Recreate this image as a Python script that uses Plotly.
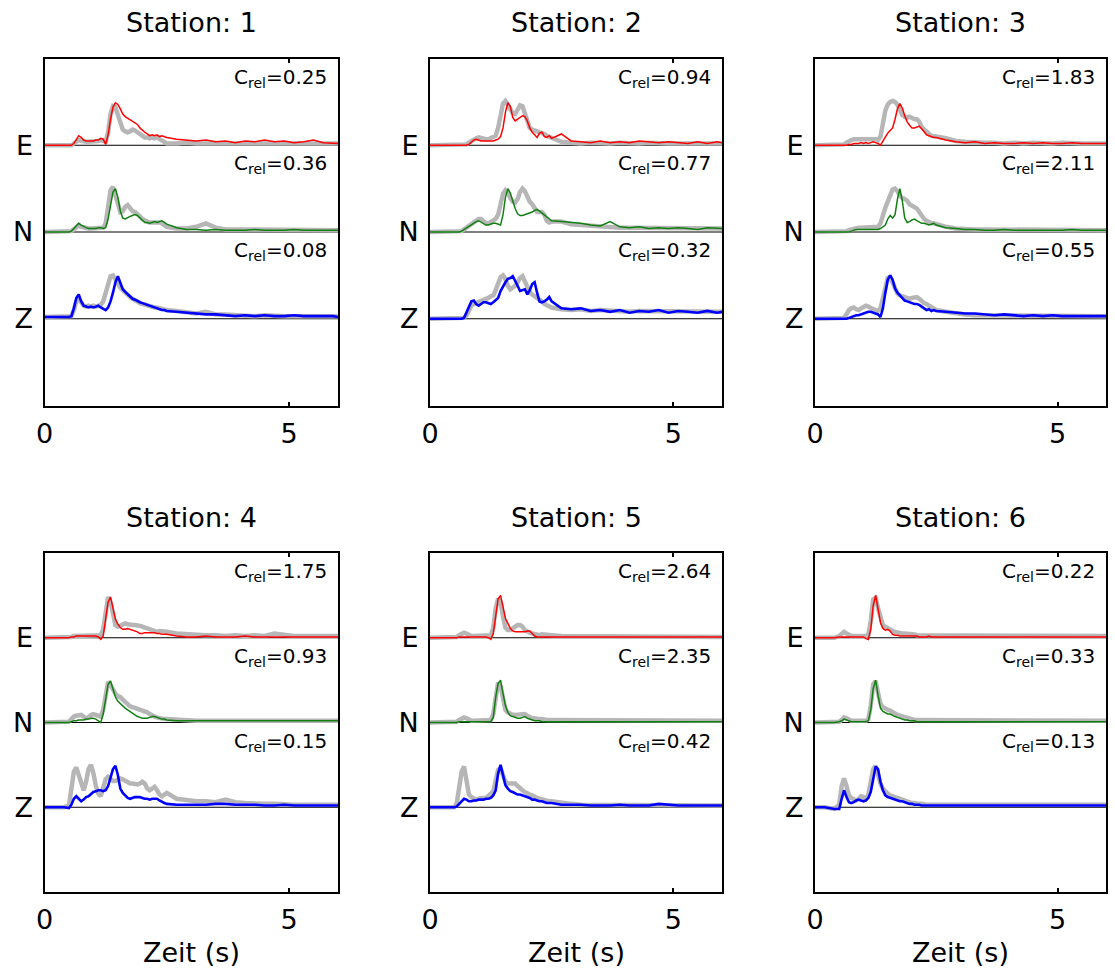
import plotly.graph_objects as go

# ---------------- data ----------------
t = [0.0, 0.2, 0.4,
     0.5, 0.55, 0.6, 0.65, 0.7, 0.75, 0.8, 0.85, 0.9, 0.95,
     1.0, 1.05, 1.1, 1.15, 1.2, 1.25, 1.3, 1.35, 1.4, 1.45,
     1.5, 1.55, 1.6, 1.65, 1.7, 1.75, 1.8, 1.85, 1.9, 1.95,
     2.0, 2.05, 2.1, 2.15, 2.2, 2.25, 2.3, 2.35, 2.4, 2.45, 2.5,
     2.7, 2.9, 3.1, 3.3, 3.5, 3.7, 3.9, 4.1, 4.3, 4.5, 4.7, 4.9, 5.1, 5.3, 5.5, 5.7, 5.9, 6.0]

stations = ["1", "2", "3", "4", "5", "6"]
components = ["E", "N", "Z"]
crel_E = [0.25, 0.94, 1.83, 1.75, 2.64, 0.22]
crel_N = [0.36, 0.77, 2.11, 0.93, 2.35, 0.33]
crel_Z = [0.08, 0.32, 0.55, 0.15, 0.42, 0.13]
x_ticks = [0, 5]

# Station 1
s1_E_obs = [0, 0, 0,
            0, 0, 0.02, 0.04, 0.06, 0.05, 0.04, 0.04, 0.04, 0.04,
            0.04, 0.05, 0.05, 0.06, 0.05, 0.04, 0.15, 0.36, 0.45, 0.44,
            0.35, 0.24, 0.18, 0.16, 0.15, 0.16, 0.18, 0.17, 0.15, 0.12,
            0.10, 0.09, 0.09, 0.08, 0.09, 0.08, 0.09, 0.07, 0.05, 0.03, 0.02,
            0.02, 0.03, 0.02, 0.02, 0.03, 0.02, 0.02, 0.03, 0.02, 0.02, 0.02, 0.03, 0.02, 0.02, 0.02, 0.02, 0.02, 0.02]
s1_E_syn = [0, 0, 0,
            0, 0, 0.02, 0.06, 0.11, 0.09, 0.06, 0.05, 0.05, 0.05,
            0.05, 0.06, 0.06, 0.08, 0.07, 0.01, 0.12, 0.30, 0.44, 0.49,
            0.47, 0.42, 0.36, 0.33, 0.31, 0.29, 0.28, 0.26, 0.24, 0.20,
            0.17, 0.15, 0.13, 0.11, 0.12, 0.11, 0.12, 0.10, 0.11, 0.10, 0.09,
            0.07, 0.06, 0.05, 0.06, 0.04, 0.05, 0.03, 0.05, 0.04, 0.06, 0.04, 0.05, 0.03, 0.04, 0.06, 0.03, 0.02, 0.02]
s1_N_obs = [0, 0, 0,
            0, 0.01, 0.03, 0.06, 0.08, 0.06, 0.05, 0.04, 0.04, 0.04,
            0.04, 0.04, 0.04, 0.05, 0.05, 0.10, 0.30, 0.48, 0.52, 0.42,
            0.30, 0.23, 0.24, 0.29, 0.31, 0.27, 0.24, 0.23, 0.21, 0.18,
            0.15, 0.13, 0.12, 0.11, 0.11, 0.12, 0.11, 0.11, 0.10, 0.08, 0.06,
            0.04, 0.04, 0.06, 0.10, 0.05, 0.03, 0.03, 0.03, 0.02, 0.03, 0.02, 0.03, 0.02, 0.03, 0.02, 0.02, 0.02, 0.02]
s1_N_syn = [0, 0, 0,
            0, 0.01, 0.04, 0.08, 0.10, 0.08, 0.06, 0.05, 0.04, 0.04,
            0.04, 0.04, 0.05, 0.05, 0.04, 0.05, 0.15, 0.32, 0.46, 0.50,
            0.40, 0.24, 0.16, 0.15, 0.17, 0.18, 0.19, 0.20, 0.19, 0.16,
            0.13, 0.11, 0.11, 0.10, 0.11, 0.12, 0.11, 0.12, 0.13, 0.11, 0.09,
            0.05, 0.03, 0.03, 0.02, 0.03, 0.02, 0.02, 0.02, 0.03, 0.02, 0.02, 0.02, 0.03, 0.02, 0.02, 0.02, 0.02, 0.02]
s1_Z_obs = [0.02, 0.02, 0.02,
            0.02, 0.03, 0.10, 0.20, 0.23, 0.18, 0.15, 0.14, 0.15, 0.14,
            0.15, 0.14, 0.15, 0.16, 0.20, 0.30, 0.42, 0.49, 0.50, 0.45,
            0.40, 0.36, 0.33, 0.30, 0.27, 0.25, 0.23, 0.22, 0.20, 0.18,
            0.17, 0.16, 0.15, 0.14, 0.14, 0.13, 0.13, 0.12, 0.11, 0.11, 0.10,
            0.09, 0.07, 0.06, 0.08, 0.05, 0.05, 0.04, 0.04, 0.03, 0.04, 0.03, 0.03, 0.03, 0.03, 0.03, 0.03, 0.03, 0.03]
s1_Z_syn = [0.02, 0.02, 0.02,
            0.02, 0.03, 0.12, 0.24, 0.28, 0.20, 0.15, 0.14, 0.13, 0.14,
            0.13, 0.14, 0.15, 0.13, 0.11, 0.10, 0.13, 0.20, 0.30, 0.42,
            0.49, 0.42, 0.34, 0.31, 0.28, 0.25, 0.23, 0.22, 0.20, 0.19,
            0.18, 0.17, 0.16, 0.15, 0.14, 0.13, 0.12, 0.11, 0.10, 0.10, 0.09,
            0.08, 0.07, 0.06, 0.05, 0.05, 0.04, 0.03, 0.04, 0.03, 0.04, 0.03, 0.03, 0.04, 0.03, 0.03, 0.03, 0.03, 0.02]

# Station 2
s2_E_obs = [0, 0, 0,
            0, 0, 0, 0, 0, 0.01, 0.03, 0.05, 0.07, 0.08,
            0.09, 0.08, 0.07, 0.07, 0.07, 0.08, 0.10, 0.11, 0.20, 0.38,
            0.48, 0.51, 0.47, 0.42, 0.37, 0.36, 0.40, 0.46, 0.45, 0.36,
            0.26, 0.20, 0.18, 0.17, 0.16, 0.15, 0.15, 0.13, 0.11, 0.10, 0.09,
            0.04, 0.03, 0.02, 0.03, 0.02, 0.02, 0.03, 0.02, 0.02, 0.03, 0.02, 0.02, 0.02, 0.02, 0.02, 0.02, 0.02, 0.02]
s2_E_syn = [0, 0, 0,
            0, 0, 0, 0, 0, 0, 0.01, 0.04, 0.06, 0.07,
            0.06, 0.05, 0.05, 0.05, 0.05, 0.05, 0.05, 0.06, 0.07, 0.10,
            0.20, 0.38, 0.49, 0.45, 0.32, 0.28, 0.30, 0.33, 0.34, 0.33,
            0.28, 0.20, 0.15, 0.12, 0.09, 0.14, 0.15, 0.10, 0.09, 0.11, 0.08,
            0.13, 0.05, 0.04, 0.03, 0.05, 0.03, 0.04, 0.03, 0.05, 0.04, 0.03, 0.04, 0.03, 0.02, 0.04, 0.02, 0.04, 0.03]
s2_N_obs = [0, 0, 0,
            0, 0, 0, 0.01, 0.03, 0.05, 0.07, 0.09, 0.11, 0.13,
            0.15, 0.15, 0.12, 0.10, 0.10, 0.12, 0.14, 0.15, 0.20, 0.33,
            0.44, 0.48, 0.45, 0.39, 0.35, 0.34, 0.38, 0.46, 0.50, 0.47,
            0.40, 0.35, 0.32, 0.27, 0.23, 0.23, 0.23, 0.20, 0.13, 0.11, 0.12,
            0.12, 0.09, 0.08, 0.07, 0.06, 0.05, 0.05, 0.05, 0.05, 0.04, 0.05, 0.04, 0.04, 0.04, 0.04, 0.04, 0.04, 0.04]
s2_N_syn = [0, 0, 0,
            0, 0, 0, 0.01, 0.03, 0.05, 0.06, 0.08, 0.10, 0.12,
            0.13, 0.11, 0.09, 0.08, 0.08, 0.09, 0.10, 0.10, 0.09, 0.08,
            0.20, 0.40, 0.50, 0.45, 0.36, 0.27, 0.21, 0.19, 0.19, 0.20,
            0.21, 0.22, 0.23, 0.25, 0.26, 0.24, 0.22, 0.20, 0.17, 0.15, 0.13,
            0.12, 0.11, 0.10, 0.08, 0.07, 0.12, 0.06, 0.05, 0.06, 0.04, 0.05, 0.04, 0.05, 0.04, 0.03, 0.05, 0.04, 0.04]
s2_Z_obs = [0, 0, 0,
            0, 0, 0, 0, 0.01, 0.04, 0.10, 0.15, 0.17, 0.18,
            0.20, 0.21, 0.21, 0.22, 0.24, 0.26, 0.27, 0.33, 0.42, 0.48,
            0.50, 0.46, 0.38, 0.34, 0.36, 0.38, 0.42, 0.47, 0.49, 0.43,
            0.35, 0.31, 0.28, 0.26, 0.24, 0.23, 0.20, 0.17, 0.16, 0.15, 0.13,
            0.11, 0.10, 0.11, 0.09, 0.10, 0.09, 0.09, 0.08, 0.09, 0.09, 0.08, 0.09, 0.08, 0.09, 0.08, 0.08, 0.08, 0.08]
s2_Z_syn = [0, 0, 0,
            0, 0, 0, 0, 0.01, 0.08, 0.15, 0.20, 0.21, 0.17,
            0.15, 0.17, 0.19, 0.19, 0.18, 0.17, 0.19, 0.22, 0.24, 0.32,
            0.38, 0.42, 0.46, 0.47, 0.49, 0.44, 0.38, 0.32, 0.33, 0.34,
            0.28, 0.33, 0.40, 0.42, 0.30, 0.20, 0.19, 0.20, 0.22, 0.25, 0.20,
            0.12, 0.11, 0.12, 0.09, 0.10, 0.08, 0.10, 0.07, 0.09, 0.08, 0.10, 0.07, 0.09, 0.08, 0.07, 0.09, 0.07, 0.08]

# Station 3
s3_E_obs = [0, 0, 0,
            0, 0, 0.01, 0.03, 0.05, 0.06, 0.07, 0.07, 0.07, 0.08,
            0.08, 0.07, 0.07, 0.08, 0.07, 0.07, 0.06, 0.10, 0.25, 0.40,
            0.47, 0.50, 0.51, 0.50, 0.47, 0.40, 0.35, 0.33, 0.32, 0.33,
            0.31, 0.30, 0.30, 0.27, 0.21, 0.18, 0.15, 0.13, 0.11, 0.11, 0.10,
            0.08, 0.05, 0.04, 0.03, 0.03, 0.03, 0.02, 0.03, 0.02, 0.03, 0.02, 0.02, 0.03, 0.02, 0.02, 0.02, 0.02, 0.02]
s3_E_syn = [0, 0, 0,
            0, 0, 0, 0, 0.01, 0.01, 0.02, 0.02, 0.02, 0.03,
            0.02, 0.03, 0.02, 0.03, 0.04, 0.03, 0.02, 0.00, 0.05, 0.10,
            0.14, 0.17, 0.20, 0.30, 0.42, 0.48, 0.43, 0.34, 0.27, 0.23,
            0.20, 0.20, 0.21, 0.22, 0.19, 0.15, 0.12, 0.11, 0.10, 0.09, 0.09,
            0.06, 0.04, 0.03, 0.04, 0.02, 0.03, 0.02, 0.02, 0.03, 0.02, 0.03, 0.02, 0.02, 0.03, 0.02, 0.02, 0.02, 0.02]
s3_N_obs = [0, 0, 0,
            0, 0, 0, 0.01, 0.02, 0.03, 0.04, 0.05, 0.05, 0.05,
            0.05, 0.05, 0.05, 0.05, 0.05, 0.05, 0.06, 0.10, 0.20, 0.28,
            0.35, 0.43, 0.49, 0.50, 0.47, 0.42, 0.39, 0.38, 0.36, 0.32,
            0.30, 0.28, 0.27, 0.23, 0.18, 0.15, 0.13, 0.11, 0.10, 0.10, 0.09,
            0.06, 0.04, 0.03, 0.03, 0.03, 0.03, 0.02, 0.03, 0.02, 0.02, 0.03, 0.02, 0.02, 0.03, 0.02, 0.02, 0.02, 0.02]
s3_N_syn = [0, 0, 0,
            0, 0, 0, 0, 0, 0.01, 0.02, 0.03, 0.03, 0.03,
            0.03, 0.03, 0.03, 0.03, 0.03, 0.03, 0.03, 0.04, 0.06, 0.08,
            0.15, 0.19, 0.16, 0.20, 0.38, 0.50, 0.36, 0.16, 0.11, 0.12,
            0.14, 0.15, 0.13, 0.11, 0.10, 0.10, 0.09, 0.08, 0.09, 0.10, 0.08,
            0.05, 0.04, 0.03, 0.03, 0.02, 0.02, 0.03, 0.02, 0.02, 0.02, 0.02, 0.02, 0.02, 0.03, 0.02, 0.02, 0.02, 0.02]
s3_Z_obs = [0, 0, 0,
            0, 0, 0.01, 0.05, 0.10, 0.12, 0.13, 0.11, 0.10, 0.12,
            0.14, 0.15, 0.14, 0.12, 0.11, 0.10, 0.09, 0.12, 0.25, 0.40,
            0.47, 0.48, 0.42, 0.34, 0.29, 0.27, 0.26, 0.25, 0.23, 0.23,
            0.24, 0.25, 0.25, 0.23, 0.20, 0.18, 0.17, 0.15, 0.13, 0.11, 0.10,
            0.08, 0.06, 0.05, 0.04, 0.04, 0.03, 0.03, 0.03, 0.03, 0.03, 0.03, 0.03, 0.03, 0.03, 0.03, 0.03, 0.03, 0.03]
s3_Z_syn = [0, 0, 0,
            0, 0, 0, 0, 0.01, 0.02, 0.03, 0.04, 0.04, 0.05,
            0.06, 0.07, 0.08, 0.08, 0.07, 0.06, 0.05, 0.02, 0.12, 0.30,
            0.45, 0.50, 0.45, 0.35, 0.30, 0.27, 0.24, 0.21, 0.20, 0.19,
            0.18, 0.17, 0.17, 0.16, 0.14, 0.12, 0.10, 0.11, 0.09, 0.10, 0.09,
            0.08, 0.07, 0.06, 0.06, 0.05, 0.04, 0.05, 0.04, 0.03, 0.04, 0.03, 0.04, 0.03, 0.03, 0.03, 0.03, 0.03, 0.03]

# Station 4
s4_E_obs = [0, 0, 0,
            0, 0.01, 0.02, 0.02, 0.02, 0.02, 0.02, 0.02, 0.02, 0.02,
            0.02, 0.02, 0.02, 0.03, 0.10, 0.30, 0.48, 0.42, 0.25, 0.15,
            0.13, 0.14, 0.16, 0.17, 0.16, 0.15, 0.15, 0.15, 0.15, 0.14,
            0.13, 0.12, 0.11, 0.10, 0.08, 0.07, 0.07, 0.08, 0.08, 0.08, 0.07,
            0.05, 0.04, 0.03, 0.03, 0.03, 0.02, 0.03, 0.02, 0.03, 0.02, 0.05, 0.03, 0.02, 0.02, 0.02, 0.02, 0.02, 0.02]
s4_E_syn = [0, 0, 0,
            0, 0.01, 0.01, 0.02, 0.02, 0.02, 0.02, 0.02, 0.02, 0.02,
            0.02, 0.02, 0.01, -0.02, 0.02, 0.20, 0.42, 0.48, 0.35, 0.22,
            0.16, 0.12, 0.10, 0.10, 0.11, 0.10, 0.09, 0.08, 0.07, 0.05,
            0.05, 0.06, 0.06, 0.06, 0.06, 0.06, 0.05, 0.05, 0.04, 0.04, 0.04,
            0.02, 0.01, 0.01, 0.02, 0.01, 0.01, 0.01, 0.02, 0.01, 0.01, 0.01, 0.01, 0.01, 0.01, 0.01, 0.01, 0.01, 0.01]
s4_N_obs = [0, 0, 0,
            0.01, 0.04, 0.07, 0.08, 0.09, 0.09, 0.07, 0.05, 0.06, 0.09,
            0.10, 0.09, 0.07, 0.07, 0.15, 0.35, 0.48, 0.44, 0.38, 0.34,
            0.31, 0.30, 0.27, 0.24, 0.21, 0.19, 0.18, 0.17, 0.17, 0.16,
            0.14, 0.13, 0.12, 0.10, 0.08, 0.07, 0.06, 0.05, 0.05, 0.04, 0.04,
            0.03, 0.03, 0.02, 0.02, 0.02, 0.02, 0.02, 0.02, 0.02, 0.02, 0.02, 0.02, 0.02, 0.02, 0.02, 0.02, 0.02, 0.02]
s4_N_syn = [0, 0, 0,
            0, 0.01, 0.02, 0.02, 0.03, 0.03, 0.03, 0.04, 0.04, 0.05,
            0.05, 0.04, 0.02, 0.00, 0.10, 0.30, 0.45, 0.49, 0.38, 0.30,
            0.25, 0.22, 0.20, 0.17, 0.15, 0.13, 0.10, 0.08, 0.07, 0.06,
            0.05, 0.05, 0.05, 0.06, 0.07, 0.07, 0.06, 0.05, 0.04, 0.04, 0.03,
            0.02, 0.02, 0.02, 0.02, 0.02, 0.02, 0.02, 0.02, 0.02, 0.02, 0.02, 0.02, 0.02, 0.02, 0.02, 0.02, 0.02, 0.02]
s4_Z_obs = [0, 0, 0,
            0.02, 0.20, 0.42, 0.47, 0.38, 0.25, 0.20, 0.30, 0.45, 0.50,
            0.40, 0.25, 0.16, 0.13, 0.22, 0.33, 0.36, 0.33, 0.31, 0.31,
            0.32, 0.34, 0.33, 0.31, 0.29, 0.28, 0.28, 0.27, 0.27, 0.28,
            0.30, 0.28, 0.22, 0.20, 0.22, 0.24, 0.20, 0.15, 0.13, 0.15, 0.17,
            0.10, 0.08, 0.07, 0.07, 0.06, 0.09, 0.06, 0.05, 0.04, 0.04, 0.04, 0.03, 0.03, 0.03, 0.03, 0.03, 0.03, 0.03]
s4_Z_syn = [0, 0, 0,
            -0.01, 0.03, 0.10, 0.13, 0.10, 0.07, 0.09, 0.12, 0.13, 0.16,
            0.18, 0.19, 0.20, 0.20, 0.19, 0.20, 0.25, 0.35, 0.45, 0.49,
            0.38, 0.22, 0.17, 0.14, 0.11, 0.10, 0.11, 0.12, 0.12, 0.12,
            0.11, 0.10, 0.10, 0.09, 0.10, 0.10, 0.10, 0.08, 0.06, 0.05, 0.04,
            0.03, 0.03, 0.03, 0.03, 0.04, 0.04, 0.03, 0.03, 0.03, 0.02, 0.02, 0.03, 0.02, 0.02, 0.02, 0.02, 0.02, 0.02]

# Station 5
s5_E_obs = [0, 0, 0,
            0, 0.01, 0.03, 0.05, 0.06, 0.05, 0.03, 0.02, 0.02, 0.02,
            0.02, 0.02, 0.02, 0.02, 0.02, 0.03, 0.12, 0.35, 0.46, 0.42,
            0.25, 0.12, 0.09, 0.09, 0.11, 0.13, 0.15, 0.15, 0.13, 0.09,
            0.07, 0.06, 0.05, 0.04, 0.03, 0.03, 0.04, 0.04, 0.04, 0.04, 0.03,
            0.02, 0.02, 0.01, 0.02, 0.01, 0.02, 0.01, 0.01, 0.02, 0.01, 0.02, 0.01, 0.01, 0.01, 0.01, 0.01, 0.01, 0.01]
s5_E_syn = [0, 0, 0,
            0, 0, 0.01, 0.01, 0.01, 0.01, 0.01, 0.01, 0.01, 0.01,
            0.01, 0.01, 0.01, 0.01, 0.00, -0.02, 0.05, 0.28, 0.46, 0.50,
            0.38, 0.23, 0.17, 0.11, 0.08, 0.07, 0.07, 0.07, 0.07, 0.07,
            0.08, 0.08, 0.05, 0.02, 0.01, 0.01, 0.01, 0.01, 0.01, 0.01, 0.01,
            0.01, 0.01, 0.01, 0.01, 0.01, 0.01, 0.01, 0.01, 0.01, 0.01, 0.01, 0.01, 0.01, 0.01, 0.01, 0.01, 0.01, 0.01]
s5_N_obs = [0, 0, 0,
            0, 0.01, 0.03, 0.05, 0.06, 0.05, 0.03, 0.02, 0.02, 0.02,
            0.02, 0.02, 0.02, 0.02, 0.02, 0.03, 0.10, 0.33, 0.47, 0.43,
            0.26, 0.15, 0.12, 0.10, 0.09, 0.09, 0.09, 0.10, 0.10, 0.10,
            0.08, 0.06, 0.05, 0.05, 0.04, 0.04, 0.04, 0.03, 0.03, 0.03, 0.03,
            0.02, 0.02, 0.02, 0.02, 0.02, 0.02, 0.02, 0.02, 0.02, 0.02, 0.02, 0.02, 0.02, 0.02, 0.02, 0.02, 0.02, 0.02]
s5_N_syn = [0, 0, 0,
            0, 0, 0.01, 0.01, 0.01, 0.01, 0.01, 0.01, 0.01, 0.01,
            0.01, 0.01, 0.01, 0.01, 0.01, 0.01, 0.06, 0.30, 0.46, 0.50,
            0.34, 0.20, 0.12, 0.08, 0.07, 0.06, 0.05, 0.05, 0.06, 0.07,
            0.05, 0.04, 0.03, 0.02, 0.02, 0.02, 0.01, 0.01, 0.01, 0.01, 0.01,
            0.01, 0.01, 0.01, 0.01, 0.01, 0.01, 0.01, 0.01, 0.01, 0.01, 0.01, 0.01, 0.01, 0.01, 0.01, 0.01, 0.01, 0.01]
s5_Z_obs = [0, 0, 0,
            0, 0.05, 0.20, 0.42, 0.48, 0.30, 0.15, 0.12, 0.10, 0.09,
            0.10, 0.11, 0.11, 0.11, 0.13, 0.16, 0.19, 0.30, 0.44, 0.46,
            0.38, 0.30, 0.28, 0.28, 0.29, 0.28, 0.25, 0.22, 0.20, 0.18,
            0.16, 0.15, 0.14, 0.12, 0.11, 0.10, 0.09, 0.09, 0.08, 0.07, 0.07,
            0.05, 0.04, 0.03, 0.03, 0.03, 0.03, 0.03, 0.02, 0.02, 0.02, 0.03, 0.02, 0.02, 0.02, 0.02, 0.02, 0.02, 0.02]
s5_Z_syn = [0, 0, 0,
            0, 0.01, 0.04, 0.08, 0.10, 0.09, 0.07, 0.07, 0.08, 0.08,
            0.09, 0.09, 0.09, 0.10, 0.10, 0.11, 0.14, 0.20, 0.40, 0.50,
            0.38, 0.26, 0.22, 0.19, 0.18, 0.16, 0.15, 0.15, 0.14, 0.13,
            0.12, 0.11, 0.09, 0.09, 0.08, 0.07, 0.07, 0.06, 0.05, 0.05, 0.05,
            0.03, 0.03, 0.03, 0.02, 0.02, 0.02, 0.03, 0.02, 0.02, 0.02, 0.04, 0.03, 0.02, 0.02, 0.02, 0.02, 0.02, 0.02]

# Station 6
s6_E_obs = [0, 0, 0,
            0.02, 0.05, 0.07, 0.05, 0.03, 0.02, 0.02, 0.02, 0.02, 0.02,
            0.02, 0.02, 0.04, 0.20, 0.45, 0.47, 0.35, 0.22, 0.15, 0.13,
            0.11, 0.09, 0.08, 0.07, 0.06, 0.05, 0.05, 0.05, 0.05, 0.05,
            0.04, 0.04, 0.03, 0.03, 0.03, 0.02, 0.02, 0.02, 0.02, 0.02, 0.02,
            0.02, 0.02, 0.02, 0.02, 0.02, 0.02, 0.02, 0.02, 0.02, 0.02, 0.02, 0.02, 0.02, 0.02, 0.02, 0.02, 0.02, 0.02]
s6_E_syn = [0, 0, 0,
            0.01, 0.01, 0.01, 0.01, 0.01, 0.01, 0.01, 0.01, 0.01, 0.01,
            0.01, -0.01, -0.02, 0.10, 0.38, 0.50, 0.35, 0.18, 0.11, 0.09,
            0.10, 0.08, 0.04, 0.03, 0.03, 0.02, 0.02, 0.02, 0.02, 0.02,
            0.02, 0.02, 0.02, 0.01, 0.01, 0.01, 0.01, 0.02, 0.01, 0.01, 0.01,
            0.01, 0.01, 0.01, 0.01, 0.01, 0.01, 0.01, 0.01, 0.01, 0.01, 0.01, 0.01, 0.01, 0.01, 0.01, 0.01, 0.01, 0.01]
s6_N_obs = [0, 0, 0,
            0.01, 0.03, 0.06, 0.05, 0.03, 0.02, 0.02, 0.02, 0.02, 0.02,
            0.02, 0.02, 0.04, 0.20, 0.45, 0.49, 0.35, 0.22, 0.18, 0.16,
            0.15, 0.14, 0.12, 0.10, 0.09, 0.08, 0.07, 0.06, 0.05, 0.04,
            0.04, 0.03, 0.03, 0.03, 0.03, 0.02, 0.02, 0.02, 0.02, 0.02, 0.02,
            0.02, 0.02, 0.02, 0.02, 0.02, 0.02, 0.02, 0.02, 0.02, 0.02, 0.02, 0.02, 0.02, 0.02, 0.02, 0.02, 0.02, 0.02]
s6_N_syn = [0, 0, 0,
            0.01, 0.02, 0.04, 0.03, 0.02, 0.01, 0.01, 0.01, 0.01, 0.01,
            0.01, 0.01, 0.02, 0.15, 0.40, 0.50, 0.32, 0.17, 0.13, 0.11,
            0.10, 0.10, 0.08, 0.07, 0.06, 0.05, 0.04, 0.03, 0.03, 0.02,
            0.02, 0.02, 0.01, 0.01, 0.01, 0.01, 0.01, 0.01, 0.01, 0.01, 0.01,
            0.01, 0.01, 0.01, 0.01, 0.01, 0.01, 0.01, 0.01, 0.01, 0.01, 0.01, 0.01, 0.01, 0.01, 0.01, 0.01, 0.01, 0.01]
s6_Z_obs = [0, 0, -0.02,
            0.03, 0.25, 0.34, 0.25, 0.14, 0.11, 0.09, 0.08, 0.10, 0.13,
            0.12, 0.10, 0.15, 0.30, 0.45, 0.49, 0.38, 0.28, 0.22, 0.18,
            0.16, 0.14, 0.13, 0.12, 0.10, 0.09, 0.08, 0.07, 0.06, 0.06,
            0.05, 0.05, 0.04, 0.04, 0.04, 0.03, 0.03, 0.03, 0.03, 0.03, 0.03,
            0.03, 0.03, 0.03, 0.03, 0.03, 0.03, 0.03, 0.03, 0.03, 0.03, 0.03, 0.03, 0.03, 0.03, 0.03, 0.03, 0.03, 0.03]
s6_Z_syn = [0, 0, -0.02,
            -0.02, 0.10, 0.20, 0.12, 0.06, 0.05, 0.06, 0.08, 0.09, 0.08,
            0.07, 0.08, 0.11, 0.18, 0.35, 0.48, 0.45, 0.30, 0.20, 0.14,
            0.12, 0.11, 0.10, 0.09, 0.08, 0.07, 0.07, 0.06, 0.05, 0.04,
            0.04, 0.03, 0.03, 0.03, 0.02, 0.02, 0.02, 0.02, 0.02, 0.02, 0.02,
            0.02, 0.02, 0.02, 0.02, 0.02, 0.02, 0.02, 0.02, 0.02, 0.02, 0.02, 0.02, 0.02, 0.02, 0.02, 0.02, 0.02, 0.02]

observed = [
    [s1_E_obs, s1_N_obs, s1_Z_obs], [s2_E_obs, s2_N_obs, s2_Z_obs], [s3_E_obs, s3_N_obs, s3_Z_obs],
    [s4_E_obs, s4_N_obs, s4_Z_obs], [s5_E_obs, s5_N_obs, s5_Z_obs], [s6_E_obs, s6_N_obs, s6_Z_obs],
]
synthetic = [
    [s1_E_syn, s1_N_syn, s1_Z_syn], [s2_E_syn, s2_N_syn, s2_Z_syn], [s3_E_syn, s3_N_syn, s3_Z_syn],
    [s4_E_syn, s4_N_syn, s4_Z_syn], [s5_E_syn, s5_N_syn, s5_Z_syn], [s6_E_syn, s6_N_syn, s6_Z_syn],
]
crel = [crel_E, crel_N, crel_Z]

for st in observed + synthetic:
    for s in st:
        assert len(s) == len(t), len(s)

# ---------------- layout / style ----------------
W, H = 1115, 975
FONT = "DejaVu Sans, Verdana, sans-serif"
col_left = [44.5, 430, 815]
col_right = [338, 722, 1106]
row_top = [58.5, 553]
row_bottom = [405.5, 892]
baseline = {"E": 3, "N": 2, "Z": 1}
syn_color = {"E": "#ff0000", "N": "#108010", "Z": "#0000ff"}
syn_width = {"E": 1.5, "N": 1.5, "Z": 2.6}
obs_color = "#b6b6b6"

fig = go.Figure()
layout = dict(
    template="none",
    width=W, height=H, margin=dict(l=0, r=0, t=0, b=0, pad=0), autosize=False,
    paper_bgcolor="white", plot_bgcolor="white", showlegend=False,
    font=dict(family=FONT, color="black"),
)
annotations = []
shapes = []

for k in range(6):
    r, c = divmod(k, 3)
    n = k + 1
    xa = "x" if n == 1 else f"x{n}"
    ya = "y" if n == 1 else f"y{n}"
    L, R = col_left[c], col_right[c]
    T, B = row_top[r], row_bottom[r]
    layout["xaxis" if n == 1 else f"xaxis{n}"] = dict(
        domain=[L / W, R / W], anchor=ya, range=[0, 6], automargin=False,
        tickmode="array", tickvals=x_ticks, ticktext=[str(v) for v in x_ticks],
        ticks="inside", ticklen=4, tickwidth=1.5, tickcolor="black",
        showline=True, linewidth=2, linecolor="black", mirror="ticks",
        showgrid=False, zeroline=False,
        tickfont=dict(size=27, family=FONT, color="black"),
        ticklabelstandoff=3,
    )
    layout["yaxis" if n == 1 else f"yaxis{n}"] = dict(
        domain=[1 - B / H, 1 - T / H], anchor=xa, range=[0, 4], automargin=False,
        tickmode="array", tickvals=[baseline[cc] for cc in components], ticktext=components,
        ticks="", showline=True, linewidth=2, linecolor="black", mirror=True,
        showgrid=False, zeroline=False,
        tickfont=dict(size=27, family=FONT, color="black"),
        ticklabelstandoff=4,
    )
    # band separators (baselines)
    for cc in components:
        shapes.append(dict(type="line", xref=xa, yref=ya, x0=0, x1=6,
                           y0=baseline[cc], y1=baseline[cc],
                           line=dict(color="black", width=1), layer="below"))
    for j, cc in enumerate(components):
        b = baseline[cc]
        fig.add_trace(go.Scatter(
            x=t, y=[b + v for v in observed[k][j]], mode="lines",
            line=dict(color=obs_color, width=4.5), xaxis=xa, yaxis=ya,
            hoverinfo="skip"))
    for j, cc in enumerate(components):
        b = baseline[cc]
        fig.add_trace(go.Scatter(
            x=t, y=[b + v for v in synthetic[k][j]], mode="lines",
            line=dict(color=syn_color[cc], width=syn_width[cc]), xaxis=xa, yaxis=ya,
            hoverinfo="skip"))
        band_top_px = T + (4 - (b + 1)) * (B - T) / 4
        annotations.append(dict(
            xref="paper", yref="paper", x=(R - 9) / W, y=1 - (band_top_px + 4) / H,
            xanchor="right", yanchor="top", showarrow=False,
            text=f"C<sub>rel</sub>={crel[j][k]:.2f}",
            font=dict(size=20, family=FONT, color="black")))
    # station title
    annotations.append(dict(
        xref="paper", yref="paper", x=(L + R) / 2 / W, y=1 - (T - 36) / H,
        xanchor="center", yanchor="middle", showarrow=False,
        text=f"Station: {stations[k]}", font=dict(size=27, family=FONT, color="black")))
    if r == 1:
        annotations.append(dict(
            xref="paper", yref="paper", x=(L + R) / 2 / W, y=1 - 952 / H,
            xanchor="center", yanchor="middle", showarrow=False,
            text="Zeit (s)", font=dict(size=27, family=FONT, color="black")))

layout["annotations"] = annotations
layout["shapes"] = shapes
fig.update_layout(**layout)
fig.write_html("out.html", config={"displayModeBar": False},
               post_script="document.body.style.margin='0';document.body.style.padding='0';")
